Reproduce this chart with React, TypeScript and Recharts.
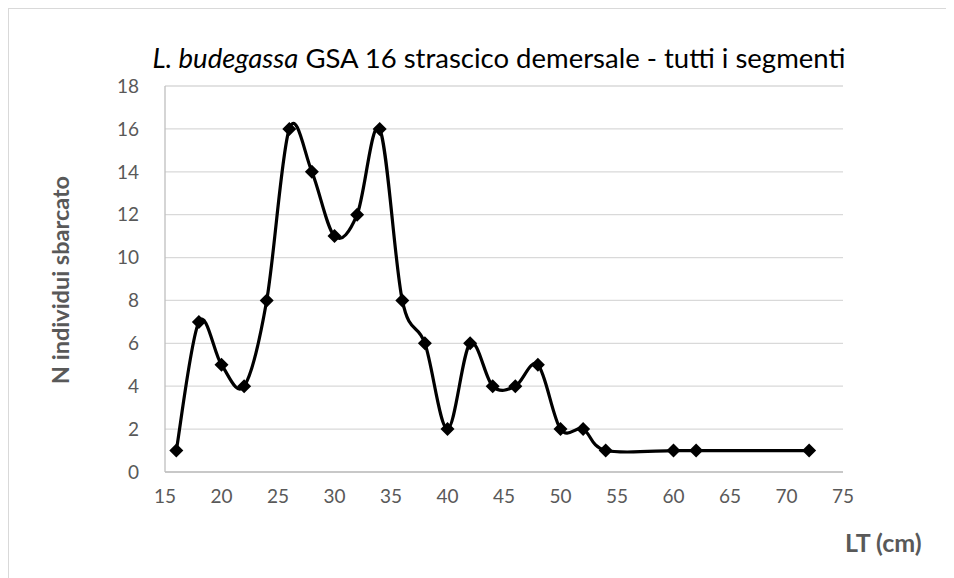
import React from 'react'
import { LineChart, Line, XAxis, YAxis, CartesianGrid } from 'recharts'

const lengths = [16, 18, 20, 22, 24, 26, 28, 30, 32, 34, 36, 38, 40, 42, 44, 46, 48, 50, 52, 54, 60, 62, 72]
const counts = [1, 7, 5, 4, 8, 16, 14, 11, 12, 16, 8, 6, 2, 6, 4, 4, 5, 2, 2, 1, 1, 1, 1]
const xTicks = [15, 20, 25, 30, 35, 40, 45, 50, 55, 60, 65, 70, 75]
const yTicks = [0, 2, 4, 6, 8, 10, 12, 14, 16, 18]

const data = lengths.map((lt, i) => ({ lt, n: counts[i] }))

const FONT = 'Lato, "Noto Sans", sans-serif'

// Excel-style smoothed line (Catmull-Rom converted to bezier)
class ExcelSmooth {
  _context: any
  _pts: [number, number][] = []
  constructor(context: any) {
    this._context = context
  }
  areaStart() {}
  areaEnd() {}
  lineStart() {
    this._pts = []
  }
  point(x: number, y: number) {
    this._pts.push([+x, +y])
  }
  lineEnd() {
    const p = this._pts
    const ctx = this._context
    if (!p.length) return
    ctx.moveTo(p[0][0], p[0][1])
    for (let i = 0; i < p.length - 1; i++) {
      const p0 = p[i - 1] || p[i]
      const p1 = p[i]
      const p2 = p[i + 1]
      const p3 = p[i + 2] || p[i + 1]
      ctx.bezierCurveTo(
        p1[0] + (p2[0] - p0[0]) / 6, p1[1] + (p2[1] - p0[1]) / 6,
        p2[0] - (p3[0] - p1[0]) / 6, p2[1] - (p3[1] - p1[1]) / 6,
        p2[0], p2[1]
      )
    }
  }
}
const excelCurve: any = (context: any) => new ExcelSmooth(context)

const Diamond = (props: any) => {
  const { cx, cy } = props
  if (cx == null || cy == null) return null
  const r = 7
  return <path d={`M${cx},${cy - r}L${cx + r},${cy}L${cx},${cy + r}L${cx - r},${cy}Z`} fill="#000" />
}

const tickStyle = { fill: '#595959', fontSize: 19, fontFamily: FONT }

export default function App() {
  return (
    <div style={{ position: 'relative', width: 945, height: 569, borderTop: '1px solid #d9d9d9', borderLeft: '1px solid #d9d9d9', fontFamily: FONT }}>
      <div style={{ position: 'absolute', left: 0, width: 980, top: 32, textAlign: 'center', fontSize: 27.5, lineHeight: '34px', color: '#000', whiteSpace: 'nowrap' }}>
        <i>L. budegassa</i> GSA 16 strascico demersale - tutti i segmenti
      </div>
      <div style={{ position: 'absolute', left: 51 - 150, top: 256, width: 300, lineHeight: '30px', textAlign: 'center', transform: 'rotate(-90deg)', fontSize: 23.5, fontWeight: 'bold', color: '#595959', whiteSpace: 'nowrap' }}>
        N individui sbarcato
      </div>
      <div style={{ position: 'absolute', left: 836, top: 518, lineHeight: '30px', fontSize: 25, fontWeight: 'bold', color: '#595959', whiteSpace: 'nowrap' }}>
        LT (cm)
      </div>
      <LineChart width={945} height={569} data={data} margin={{ top: 77, right: 111, bottom: 66, left: 96 }}>
        <CartesianGrid vertical={false} stroke="#d9d9d9" strokeWidth={1.3} />
        <XAxis
          dataKey="lt"
          type="number"
          domain={[15, 75]}
          ticks={xTicks}
          interval={0}
          height={40}
          tickLine={false}
          axisLine={{ stroke: '#bfbfbf', strokeWidth: 1.3 }}
          tick={tickStyle}
          fontSize={19}
          tickMargin={12}
        />
        <YAxis
          type="number"
          domain={[0, 18]}
          ticks={yTicks}
          interval={0}
          width={60}
          tickLine={false}
          axisLine={{ stroke: '#bfbfbf', strokeWidth: 1.3 }}
          tick={tickStyle}
          fontSize={19}
          tickMargin={20}
        />
        <Line
          dataKey="n"
          type={excelCurve}
          stroke="#000"
          strokeWidth={3.2}
          dot={<Diamond />}
          activeDot={false}
          isAnimationActive={false}
        />
      </LineChart>
    </div>
  )
}
